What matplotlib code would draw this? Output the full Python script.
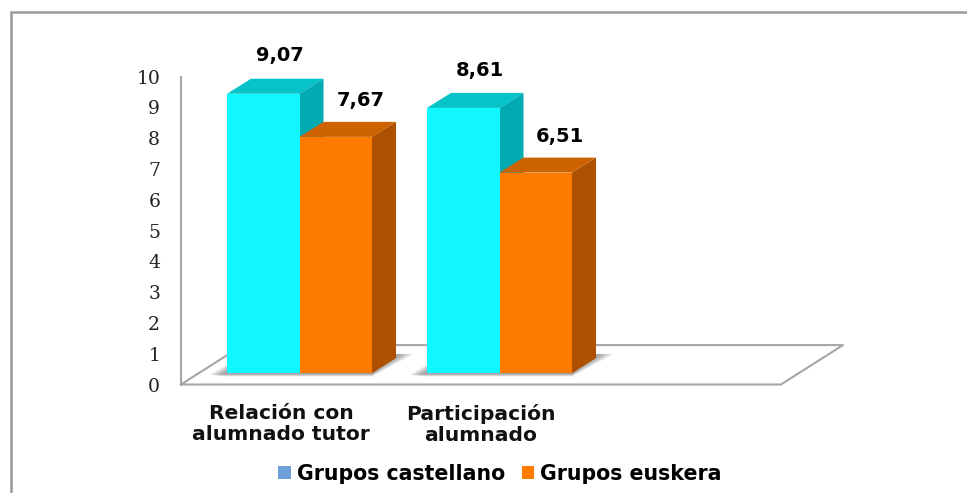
import matplotlib
matplotlib.use("Agg")
import matplotlib.pyplot as plt
from matplotlib.patches import Rectangle, Patch

categorias = ["Relación con\nalumnado tutor", "Participación\nalumnado"]
castellano = [9.07, 8.61]
euskera = [7.67, 6.51]
etiquetas_cast = ["9,07", "8,61"]
etiquetas_eusk = ["7,67", "6,51"]
ticks_y = list(range(0, 11))

W, H = 967, 493
ANCHO = 0.3625   # ancho de barra
DX = 0.12        # profundidad en x
DY = 0.487       # profundidad en y
BASE = 0.37      # las barras no arrancan en el borde del suelo
LETRA = "DejaVu Sans"

fig = plt.figure(figsize=(W / 100, H / 100), dpi=100)

# marco gris de la imagen
fig.add_artist(Rectangle((10.5 / W, -0.1), 1.1, 1.1 - 12 / H, transform=fig.transFigure,
                         fc="white", ec="#999999", lw=1.8, zorder=-1))

ax = fig.add_axes([181 / W, (H - 384.5) / H, 600 / W, 308 / H])
ax.set_xlim(-0.5925, 2.4075)
ax.set_ylim(0, 10)
ax.patch.set_visible(False)
for s in ax.spines.values():
    s.set_visible(False)
ax.set_xticks([])
ax.set_yticks(ticks_y)
ax.tick_params(axis="y", length=0, pad=15)
for t in ax.get_yticklabels():
    t.set_family("DejaVu Serif")
    t.set_fontsize(13.5)
    t.set_color("#222222")


def caja(x, alto, frente, tapa, lado):
    y0 = BASE
    y1 = BASE + alto
    ax.bar(x, alto, ANCHO, bottom=BASE, align="edge", color=frente, zorder=5)
    ax.fill([x, x + DX, x + ANCHO + DX, x + ANCHO],
            [y1, y1 + DY, y1 + DY, y1], color=tapa, lw=0, zorder=4)
    ax.fill([x + ANCHO, x + ANCHO + DX, x + ANCHO + DX, x + ANCHO],
            [y0, y0 + DY, y1 + DY, y1], color=lado, lw=0, zorder=4)


def sombra(x0, x1):
    # sombra difusa sobre el suelo, por capas que se acercan a la barra
    for k in range(10):
        f = 1 - k / 10
        ax.fill([x0, x0 - 0.09 * f, x0, x1, x1 + DX + 0.09 * f, x1 + DX],
                [BASE + 0.28 * f, BASE - 0.06, BASE - 0.11 * f, BASE - 0.11 * f, BASE + 0.62, BASE + 0.62],
                color="#555555", alpha=0.08, lw=0, zorder=2)


# suelo y pared
gris = "#a6a6a6"
ax.plot([-0.5925, -0.5925 + 0.31, 2.4075 + 0.31, 2.4075, -0.5925],
        [0, 1.28, 1.28, 0, 0], color=gris, lw=1.5, zorder=1, clip_on=False)
ax.plot([-0.5925, -0.5925], [0, 10], color=gris, lw=1.5, zorder=1, clip_on=False)

for i in range(len(categorias)):
    sombra(i - ANCHO, i + ANCHO)
    # la naranja va despues para tapar el lado de la azul
    caja(i - ANCHO, castellano[i], "#11f7ff", "#05c3c9", "#01abb1")
    caja(i, euskera[i], "#ff7b00", "#cc6200", "#ad5000")
    ax.text(i - ANCHO / 2 + 0.083, BASE + castellano[i] + 1.23, etiquetas_cast[i], ha="center", va="center",
            fontsize=14, fontweight="bold", family=LETRA, color="black", zorder=6)
    ax.text(i + ANCHO / 2 + 0.123, BASE + euskera[i] + 1.18, etiquetas_eusk[i], ha="center", va="center",
            fontsize=14, fontweight="bold", family=LETRA, color="black", zorder=6)
    ax.text(i - 0.0925, -0.62, categorias[i], ha="center", va="top", linespacing=1.15,
            fontsize=14.6, fontweight="bold", family=LETRA, color="#111111", clip_on=False)

manejadores = [Patch(fc="#6f9fd8", ec="none"), Patch(fc="#ff7b00", ec="none")]
fig.legend(manejadores, ["Grupos castellano", "Grupos euskera"], loc="center",
           bbox_to_anchor=(500 / W, (H - 474) / H), ncol=2, frameon=False, handlelength=0.6, handleheight=0.6,
           handletextpad=0.3, columnspacing=0.8,
           prop={"family": LETRA, "weight": "bold", "size": 14.8})

fig.savefig("out.png", dpi=100)
